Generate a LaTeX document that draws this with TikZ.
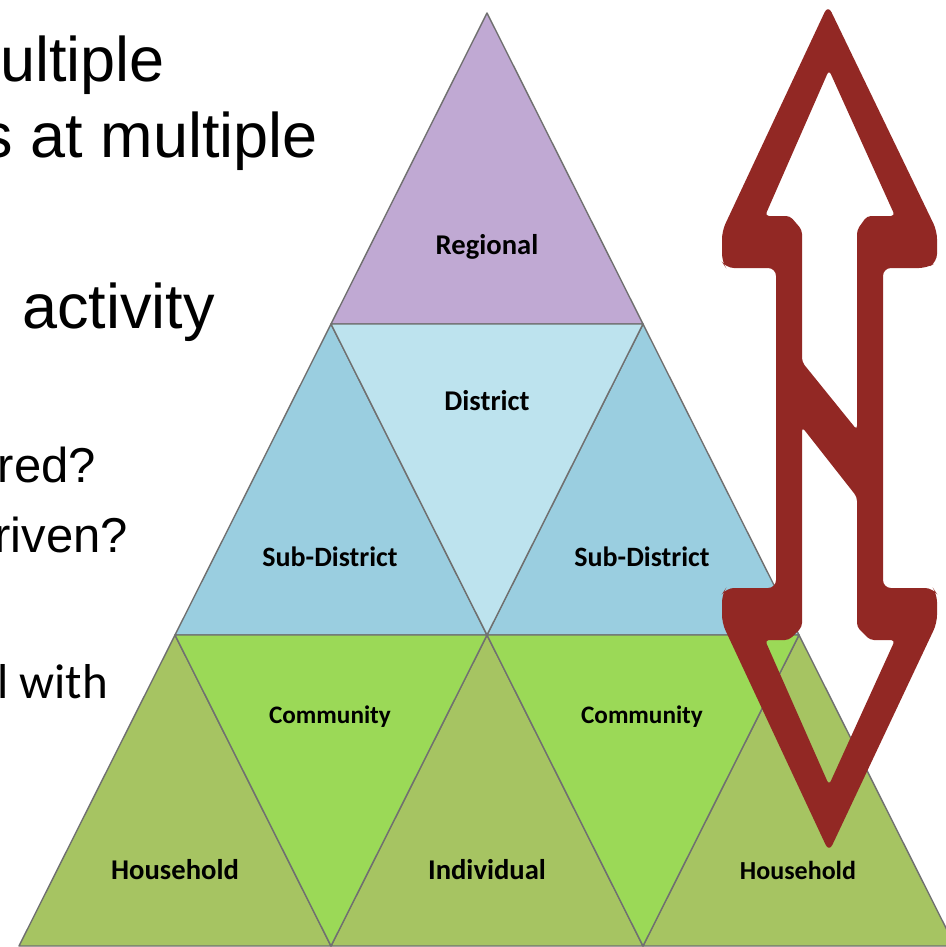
\documentclass[tikz,border=0pt]{standalone}
\usepackage{fontspec}
\setmainfont{Liberation Sans}
\newfontfamily\calibri{Carlito}
\usepackage{tikz}

\tikzset{
  tri/.style={draw=drawColor,line width=0.7pt,line join=round},
  lbl/.style={anchor=base,inner sep=0pt,outer sep=0pt,font=\calibri\bfseries\fontsize{14.3}{17}\selectfont},
  smalllbl/.style={lbl,font=\calibri\bfseries\fontsize{12.6}{15}\selectfont},
  bigtxt/.style={anchor=base east,inner sep=0pt,outer sep=0pt,font=\fontsize{31.5}{36}\selectfont},
  midtxt/.style={anchor=base east,inner sep=0pt,outer sep=0pt,font=\fontsize{24.5}{28}\selectfont}
}

\begin{document}
\begin{tikzpicture}[x=1pt,y=-1pt,scale=0.5]
\definecolor{fillColor}{RGB}{255,255,255}
\definecolor{drawColor}{RGB}{112,112,112}
\definecolor{regionalColor}{RGB}{192,169,211}
\definecolor{districtColor}{RGB}{189,227,238}
\definecolor{subColor}{RGB}{154,206,224}
\definecolor{commColor}{RGB}{155,217,87}
\definecolor{houseColor}{RGB}{166,196,98}
\definecolor{arrowColor}{RGB}{146,40,36}
\path[use as bounding box,fill=fillColor] (0,0) rectangle (946,947);

% text on the left
\node[bigtxt] (t1) at (165, 82) {ultiple};
\node[bigtxt] (t2) at (318,157) {s at multiple};
\node[bigtxt] (t3) at (215,328) {activity};
\node[midtxt] (t4) at ( 96,482) {red?};
\node[midtxt] (t5) at (128,552) {riven?};
\node[midtxt,font=\calibri\fontsize{24.5}{28}\selectfont] (t6) at (108,698) {l with};

% grid of the pyramid
\coordinate (top) at (487, 13);
\coordinate (a1) at (331,324);
\coordinate (a2) at (643,324);
\coordinate (b1) at (175,635);
\coordinate (b2) at (487,635);
\coordinate (b3) at (799,635);
\coordinate (c1) at ( 19,946);
\coordinate (c2) at (331,946);
\coordinate (c3) at (643,946);
\coordinate (c4) at (955,946);

\path[tri,fill=regionalColor] (top) -- (a1) -- (a2) -- cycle;
\path[tri,fill=subColor] (a1) -- (b1) -- (b2) -- cycle;
\path[tri,fill=subColor] (a2) -- (b2) -- (b3) -- cycle;
\path[tri,fill=districtColor] (a1) -- (a2) -- (b2) -- cycle;
\path[tri,fill=houseColor] (b1) -- (c1) -- (c2) -- cycle;
\path[tri,fill=houseColor] (b2) -- (c2) -- (c3) -- cycle;
\path[tri,fill=houseColor] (b3) -- (c3) -- (c4) -- cycle;
\path[tri,fill=commColor] (b1) -- (b2) -- (c2) -- cycle;
\path[tri,fill=commColor] (b2) -- (b3) -- (c3) -- cycle;

\node[lbl] (regional) at (487,254) {Regional};
\node[lbl] (district) at (487,410) {District};
\node[lbl,font=\calibri\bfseries\fontsize{14}{17}\selectfont] (subL) at (330,566) {Sub-District};
\node[lbl,font=\calibri\bfseries\fontsize{14}{17}\selectfont] (subR) at (642,566) {Sub-District};
\node[smalllbl] (commL) at (330,723) {Community};
\node[smalllbl] (commR) at (642,723) {Community};
\node[lbl] (houseL) at (175,879) {Household};
\node[lbl] (indiv) at (487,879) {Individual};
\node[lbl,font=\calibri\bfseries\fontsize{13}{16}\selectfont] (houseR) at (798,879) {Household};

% double arrow, outline only
\path[fill=arrowColor,even odd rule,line join=round]
  [rounded corners=4pt]
  (828,5) -- (937,231) -- (937,262) -- (927,268) -- (883,268) --
  (883,588) -- (933,588) -- (937,594) -- (937,623) -- (829,852) --
  (722,623) -- (722,594) -- (726,588) -- (776,588) --
  (776,268) -- (726,268) -- (722,262) -- (722,231) -- cycle
  [rounded corners=2pt]
  (829,70) -- (895,216) -- (867,216) -- (857,230) -- (857,430) --
  (802,362) -- (802,230) -- (790,216) -- (765,216) -- cycle
  (802,427) -- (857,497) -- (857,627) -- (870,640) -- (895,640) --
  (829,785) -- (765,640) -- (789,640) -- (802,627) -- cycle;
\end{tikzpicture}
\end{document}
